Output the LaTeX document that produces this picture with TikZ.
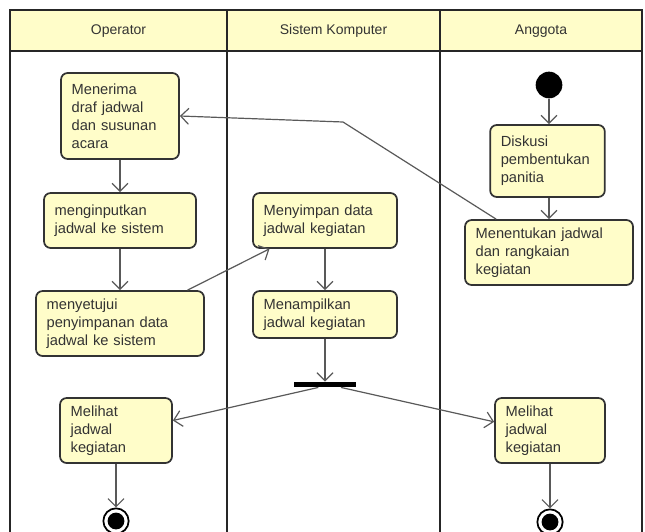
\documentclass[tikz,border=0pt]{standalone}
\usepackage{fontspec}
\setmainfont{Liberation Sans}
\usetikzlibrary{arrows.meta}
\definecolor{kuning}{HTML}{FFFDC9}
\definecolor{garis}{HTML}{333333}
\tikzset{
  act/.style={draw=garis, line width=1.3pt, fill=kuning, rounded corners=5pt,
    align=left, inner xsep=8pt, inner ysep=4pt, text=garis,
    font=\fontsize{11}{13.5}\selectfont},
  lane/.style={line width=1.5pt, draw=black!85},
  judul/.style={text=garis, font=\fontsize{10.5}{12}\selectfont},
  flow/.style={draw=black!65, line width=0.9pt, -{Straight Barb[length=6pt,width=12pt]}},
  mulai/.style={circle, fill=black, minimum size=20pt, inner sep=0pt},
  akhir/.style={circle, draw=black, line width=1.3pt, minimum size=19pt, inner sep=0pt,
    path picture={\fill (path picture bounding box.center) circle (6.3pt);}},
  garpu/.style={rectangle, fill=black, minimum width=46.5pt, minimum height=4pt, inner sep=0pt}
}
\begin{document}
\begin{tikzpicture}[x=0.75pt,y=-0.75pt]
\useasboundingbox (0,0) rectangle (645,531);
% swimlanes
\fill[kuning] (10,10) rectangle (642,51);
\draw[lane] (10,545) -- (10,10) -- (642,10) -- (642,545);
\draw[lane] (10,51) -- (642,51);
\draw[lane] (227,10) -- (227,545);
\draw[lane] (440,10) -- (440,545);
\node[judul] (h1) at (118.5,31) {Operator};
\node[judul] (h2) at (333.5,31) {Sistem Komputer};
\node[judul] (h3) at (541,31) {Anggota};
% Anggota
\node[mulai] (start) at (549,85) {};
\node[act, text width=70pt, minimum height=54pt] (diskusi) at (547.5,161) {Diskusi\\pembentukan\\panitia};
\node[act, text width=110pt, minimum height=48.75pt] (tentukan) at (549,252.5) {Menentukan jadwal\\dan rangkaian\\kegiatan};
\node[act, text width=66.5pt, minimum height=48.75pt] (lihatag) at (550,430.5) {Melihat\\jadwal\\kegiatan};
\node[akhir] (end2) at (550,522) {};
% Operator
\node[act, text width=72.5pt, minimum height=64.5pt] (menerima) at (120,116) {Menerima\\draf jadwal\\dan susunan\\acara};
\node[act, text width=98pt, minimum height=41.25pt] (input) at (120,220.5) {menginputkan\\jadwal ke sistem};
\node[act, text width=110pt, minimum height=48.75pt] (setuju) at (120,323.5) {menyetujui\\penyimpanan data\\jadwal ke sistem};
\node[act, text width=68pt, minimum height=48.75pt] (lihatop) at (116,430.5) {Melihat\\jadwal\\kegiatan};
\node[akhir] (end1) at (116,521) {};
% Sistem Komputer
\node[act, text width=92pt, minimum height=41.25pt] (simpan) at (325,220.5) {Menyimpan data\\jadwal kegiatan};
\node[act, text width=92pt, minimum height=35.25pt] (tampil) at (325,314.5) {Menampilkan\\jadwal kegiatan};
\node[garpu] (fork) at (325,384.5) {};
\coordinate (belok) at (343,122);
% alur
\draw[flow] (start) -- (start |- diskusi.north);
\draw[flow] (start |- diskusi.south) -- (start |- tentukan.north);
\draw[flow] ([xshift=24pt]tentukan.north west) -- (belok) -- (menerima.east);
\draw[flow] (menerima) -- (input);
\draw[flow] (input) -- (setuju);
\draw[flow] ([xshift=-13pt]setuju.north east) -- ([xshift=13pt]simpan.south west);
\draw[flow] (simpan) -- (tampil);
\draw[flow] (tampil) -- (fork);
\draw[flow] ([xshift=-5pt]fork.south) -- ([yshift=7.5pt]lihatop.east);
\draw[flow] ([xshift=12pt]fork.south) -- ([yshift=6.5pt]lihatag.west);
\draw[flow] (lihatop) -- (end1);
\draw[flow] (lihatag) -- (end2);
\end{tikzpicture}
\end{document}
